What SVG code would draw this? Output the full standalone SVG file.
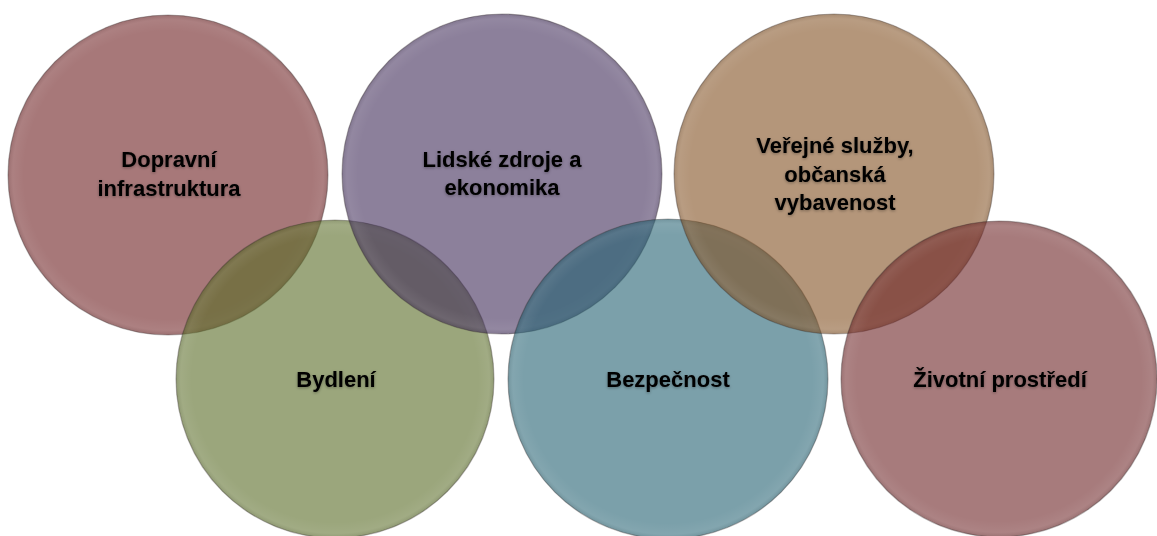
<svg xmlns="http://www.w3.org/2000/svg" width="1157" height="536" viewBox="0 0 1157 536">
<style>
.c{stroke:#3a3030;stroke-opacity:0.35;stroke-width:1.2;fill-opacity:0.6}
.t{font-family:"Liberation Sans",Arial,sans-serif;font-weight:bold;font-size:22px;fill:#000;text-anchor:middle;filter:url(#glow)}
.hl{fill:url(#shine);pointer-events:none}
</style>
<defs>
<filter id="glow" x="-20%" y="-40%" width="140%" height="180%">
<feDropShadow dx="0" dy="1" stdDeviation="1.6" flood-color="#000" flood-opacity="0.35"/>
</filter>
<radialGradient id="shine" cx="0.5" cy="0.5" r="0.5">
<stop offset="0.9" stop-color="#fff" stop-opacity="0"/>
<stop offset="0.97" stop-color="#fff" stop-opacity="0.06"/>
<stop offset="1" stop-color="#000" stop-opacity="0.08"/>
</radialGradient>
</defs>
<rect width="1157" height="536" fill="#fff"/>
<g id="node-dopravni">
<circle class="c" cx="168" cy="175" r="160" fill="#6c1e20"/>
<circle class="hl" cx="168" cy="175" r="160"/>
</g>
<g id="node-bydleni">
<circle class="c" cx="335" cy="379" r="159" fill="#586b25"/>
<circle class="hl" cx="335" cy="379" r="159"/>
</g>
<g id="node-lidske">
<circle class="c" cx="502" cy="174" r="160" fill="#3f2b58"/>
<circle class="hl" cx="502" cy="174" r="160"/>
</g>
<g id="node-bezpecnost">
<circle class="c" cx="668" cy="379" r="160" fill="#236171"/>
<circle class="hl" cx="668" cy="379" r="160"/>
</g>
<g id="node-verejne">
<circle class="c" cx="834" cy="174" r="160" fill="#825021"/>
<circle class="hl" cx="834" cy="174" r="160"/>
</g>
<g id="node-zivotni">
<circle class="c" cx="999" cy="379" r="158" fill="#6c2325"/>
<circle class="hl" cx="999" cy="379" r="158"/>
</g>
<g id="labels">
<text class="t" x="169" y="167">Dopravní</text>
<text class="t" x="169" y="196">infrastruktura</text>
<text class="t" x="502" y="167">Lidské zdroje a</text>
<text class="t" x="502" y="195">ekonomika</text>
<text class="t" x="835" y="153">Veřejné služby,</text>
<text class="t" x="835" y="182">občanská</text>
<text class="t" x="835" y="210">vybavenost</text>
<text class="t" x="336" y="387">Bydlení</text>
<text class="t" x="668" y="387">Bezpečnost</text>
<text class="t" x="1000" y="387">Životní prostředí</text>
</g>
<g id="connectors"></g>
</svg>
